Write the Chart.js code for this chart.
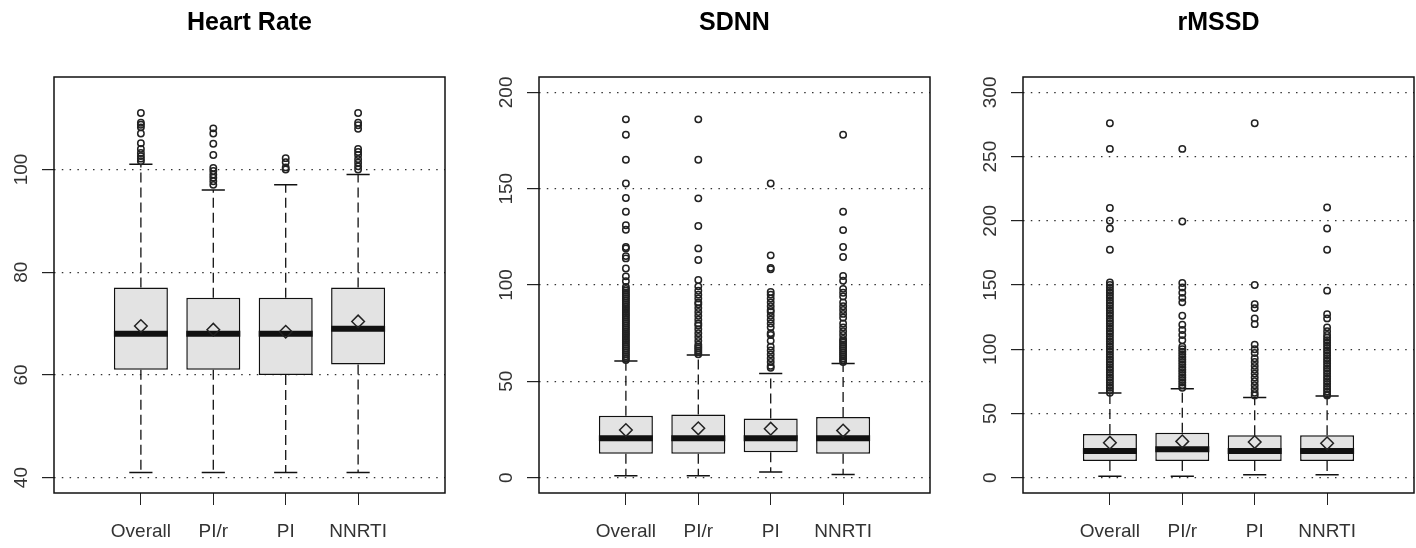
<!DOCTYPE html>
<html>
<head>
<meta charset="utf-8">
<script src="https://cdn.jsdelivr.net/npm/chart.js@4.4.1/dist/chart.umd.min.js"></script>
<style>
  body { margin: 0; background: #fff; overflow: hidden; }
  #wrap { position: relative; width: 1416px; height: 548px; overflow: hidden; }
  canvas { position: absolute; top: 0; }
</style>
</head>
<body>
<div id="wrap">
  <canvas id="grafico_hr" width="499" height="548" style="left:0px"></canvas>
  <canvas id="grafico_sdnn" width="499" height="548" style="left:485px"></canvas>
  <canvas id="grafico_rmssd" width="499" height="548" style="left:969px"></canvas>
</div>
<script>
const grupos = ["Overall", "PI/r", "PI", "NNRTI"];

// Heart Rate
const hrTicks = [40, 60, 80, 100];
const hrLow = [41, 41, 41, 41];
const hrQ1 = [61, 61, 60, 62];
const hrMedian = [68, 68, 68, 69];
const hrQ3 = [77, 75, 75, 77];
const hrHigh = [101, 96, 97, 99];
const hrMean = [69.5, 68.8, 68.4, 70.4];
const hrOutOverall = [111, 109.1, 108.7, 108.2, 107, 105.1, 104, 103.2, 102.6, 102.1, 101.6];
const hrOutPIr = [108, 107, 105, 102.8, 100.3, 99.7, 99, 98.4, 97.7, 97];
const hrOutPI = [102.2, 101.4, 100.4, 100];
const hrOutNNRTI = [111, 109.1, 108.6, 107.9, 104, 103.4, 102.8, 102, 101.3, 100.6, 100];

// SDNN
const sdTicks = [0, 50, 100, 150, 200];
const sdLow = [0.9, 0.9, 2.9, 1.6];
const sdQ1 = [12.4, 12.4, 13.1, 12.4];
const sdMedian = [20.4, 20.4, 20.4, 20.4];
const sdQ3 = [32.1, 32.8, 30.7, 31.4];
const sdHigh = [60.6, 63.6, 54.1, 59.2];
const sdMean = [24.7, 25.6, 25.4, 24.4];
const sdOutOverall = [186, 178, 165, 152.7, 145.2, 138, 131, 128.7, 119.7, 119, 115, 113.8, 108.6, 104.5, 102,
  99, 98, 97, 96, 95, 94, 93, 92, 91, 90, 89, 88, 87, 86, 85, 84, 83, 82, 81, 80, 79, 78, 77, 76, 75,
  74, 73, 72, 71, 70, 69, 68, 67, 66, 65, 64, 63, 62, 61];
const sdOutPIr = [186, 165, 145, 130.6, 119, 113, 102.6, 99.3, 97, 95, 93, 91, 90, 88, 86, 84, 82, 80, 79,
  77, 75, 73, 71, 69, 68, 67, 66, 65, 64];
const sdOutPI = [152.7, 115.4, 108.9, 108.2, 96.4, 95, 93, 91, 89, 87, 86, 84, 82, 80, 78, 75, 74, 71, 68,
  66, 64, 62, 60, 58, 57];
const sdOutNNRTI = [178, 138, 128.5, 119.7, 114.5, 104.7, 102.2, 98, 96, 94, 91, 89, 87, 85, 83, 80, 78, 76,
  74, 72, 71, 70, 69, 68, 67, 66, 65, 64, 63, 62, 61, 60];

// rMSSD
const rmTicks = [0, 50, 100, 150, 200, 250, 300];
const rmLow = [1, 1, 2.3, 2.3];
const rmQ1 = [13, 13, 13, 13];
const rmMedian = [20.7, 22, 20.7, 20.7];
const rmQ3 = [33.9, 35, 32.9, 32.9];
const rmHigh = [65.8, 69.2, 62.4, 63.5];
const rmMean = [27.2, 28.2, 27.7, 26.7];
const rmOutOverall = [276, 256, 210, 200, 194, 177.5, 152, 150, 148, 146, 144, 142, 140, 138, 136, 134, 132,
  130, 128, 126, 124, 122, 120, 118, 116, 114, 112, 110, 108, 106, 104, 102, 100, 98, 96, 94, 92, 90,
  88, 86, 84, 82, 80, 78, 76, 74, 72, 70, 68, 66];
const rmOutPIr = [256, 199.5, 151.6, 148, 144, 140, 136.5, 126, 119, 115, 111, 107, 102, 100, 98, 96, 94, 92,
  90, 88, 86, 84, 82, 80, 78, 76, 74, 72, 70];
const rmOutPI = [276, 150, 135, 132, 124, 119.5, 103.6, 100, 97, 93, 90, 87, 84, 81, 78, 75, 72, 69, 66, 64];
const rmOutNNRTI = [210.4, 194, 177.5, 145.6, 127.2, 124, 117, 114, 111, 109, 107, 105, 103, 101, 99, 97, 95,
  93, 91, 89, 87, 85, 83, 81, 79, 77, 75, 73, 71, 69, 67, 65, 64];

const metadeCaixa = 0.373;
const metadeHaste = 0.16;
const fonte = "'Liberation Sans', Arial, sans-serif";

// moldura do grafico (caixa completa como no R)
const moldura = {
  id: "moldura",
  afterDraw(chart) {
    const a = chart.chartArea;
    const ctx = chart.ctx;
    ctx.save();
    ctx.strokeStyle = "#111";
    ctx.lineWidth = 1.5;
    ctx.strokeRect(a.left, a.top, a.right - a.left, a.bottom - a.top);
    ctx.restore();
  },
};

function segmentos(x1, y1, x2, y2) {
  const pontos = [];
  for (let i = 0; i < grupos.length; i++) {
    pontos.push({ x: x1[i], y: y1[i] });
    pontos.push({ x: x2[i], y: y2[i] });
    pontos.push({ x: x2[i], y: null });
  }
  return pontos;
}

function criarBoxplot(canvasId, titulo, q, ticks, minY, maxY) {
  const pos = grupos.map((g, i) => i + 1);
  const esq = pos.map((p) => p - metadeCaixa);
  const dir = pos.map((p) => p + metadeCaixa);
  const hEsq = pos.map((p) => p - metadeHaste);
  const hDir = pos.map((p) => p + metadeHaste);

  const outliers = [];
  q.out.forEach((lista, i) => {
    lista.forEach((v) => outliers.push({ x: pos[i], y: v }));
  });

  const linha = (data, largura, tracejado, ordem) => ({
    type: "line",
    data: data,
    borderColor: "#111",
    borderWidth: largura,
    borderDash: tracejado,
    borderCapStyle: "butt",
    pointRadius: 0,
    spanGaps: false,
    fill: false,
    order: ordem,
  });

  new Chart(document.getElementById(canvasId), {
    type: "bar",
    data: {
      datasets: [
        linha(segmentos(pos, q.q3, pos, q.high), 1.3, [10, 5], 6),
        linha(segmentos(pos, q.q1, pos, q.low), 1.3, [10, 5], 6),
        linha(segmentos(hEsq, q.high, hDir, q.high), 1.5, [], 5),
        linha(segmentos(hEsq, q.low, hDir, q.low), 1.5, [], 5),
        {
          type: "bar",
          data: pos.map((p, i) => ({ x: p, y: [q.q1[i], q.q3[i]] })),
          backgroundColor: "#e3e3e3",
          borderColor: "#111",
          borderWidth: 1.5,
          borderSkipped: false,
          barPercentage: 1,
          categoryPercentage: metadeCaixa * 2,
          order: 4,
        },
        linha(segmentos(esq, q.median, dir, q.median), 6, [], 3),
        {
          type: "scatter",
          data: outliers,
          pointStyle: "circle",
          pointRadius: 3.2,
          pointBorderWidth: 1.5,
          pointBorderColor: "#222",
          pointBackgroundColor: "rgba(0,0,0,0)",
          order: 2,
        },
        {
          type: "scatter",
          data: pos.map((p, i) => ({ x: p, y: q.mean[i] })),
          pointStyle: "rectRot",
          pointRadius: 6.3,
          pointBorderWidth: 1.5,
          pointBorderColor: "#222",
          pointBackgroundColor: "rgba(0,0,0,0)",
          order: 1,
        },
      ],
    },
    options: {
      responsive: false,
      animation: false,
      devicePixelRatio: 1,
      layout: { padding: 0 },
      plugins: {
        legend: { display: false },
        tooltip: { enabled: false },
        title: {
          display: true,
          text: titulo,
          color: "#000",
          font: { family: fonte, size: 25, weight: "bold" },
          padding: { top: 8, bottom: 39 },
        },
      },
      scales: {
        x: {
          type: "linear",
          min: -0.2,
          max: 5.2,
          offset: false,
          afterBuildTicks: (axis) => {
            axis.ticks = pos.map((p) => ({ value: p }));
          },
          afterFit: (axis) => {
            axis.height = 55;
          },
          ticks: {
            autoSkip: false,
            maxRotation: 0,
            padding: 15,
            color: "#333",
            font: { family: fonte, size: 19 },
            callback: (valor, indice) => grupos[indice],
          },
          grid: {
            offset: false,
            drawOnChartArea: false,
            tickLength: 12,
            color: "#222",
            tickBorderDash: [],
          },
          border: { display: false },
        },
        y: {
          type: "linear",
          min: minY,
          max: maxY,
          afterBuildTicks: (axis) => {
            axis.ticks = ticks.map((t) => ({ value: t }));
          },
          afterFit: (axis) => {
            axis.width = 54;
          },
          ticks: {
            autoSkip: false,
            minRotation: 90,
            maxRotation: 90,
            crossAlign: "center",
            padding: 4,
            color: "#333",
            font: { family: fonte, size: 19 },
          },
          grid: {
            color: "#333",
            lineWidth: 1.2,
            tickLength: 12,
            tickColor: "#222",
            tickWidth: 1.2,
            tickBorderDash: [],
          },
          border: { display: false, dash: [1.5, 6.3] },
        },
        // eixo vazio a direita so para centralizar o titulo sobre o grafico
        direita: {
          type: "linear",
          position: "right",
          min: minY,
          max: maxY,
          ticks: { display: false },
          grid: { display: false },
          border: { display: false },
          afterFit: (axis) => {
            axis.width = 54;
          },
        },
      },
    },
    plugins: [moldura],
  });
}

criarBoxplot("grafico_hr", "Heart Rate", {
  low: hrLow, q1: hrQ1, median: hrMedian, q3: hrQ3, high: hrHigh, mean: hrMean,
  out: [hrOutOverall, hrOutPIr, hrOutPI, hrOutNNRTI],
}, hrTicks, 37, 118);

criarBoxplot("grafico_sdnn", "SDNN", {
  low: sdLow, q1: sdQ1, median: sdMedian, q3: sdQ3, high: sdHigh, mean: sdMean,
  out: [sdOutOverall, sdOutPIr, sdOutPI, sdOutNNRTI],
}, sdTicks, -8, 208);

criarBoxplot("grafico_rmssd", "rMSSD", {
  low: rmLow, q1: rmQ1, median: rmMedian, q3: rmQ3, high: rmHigh, mean: rmMean,
  out: [rmOutOverall, rmOutPIr, rmOutPI, rmOutNNRTI],
}, rmTicks, -12, 312);
</script>
</body>
</html>
